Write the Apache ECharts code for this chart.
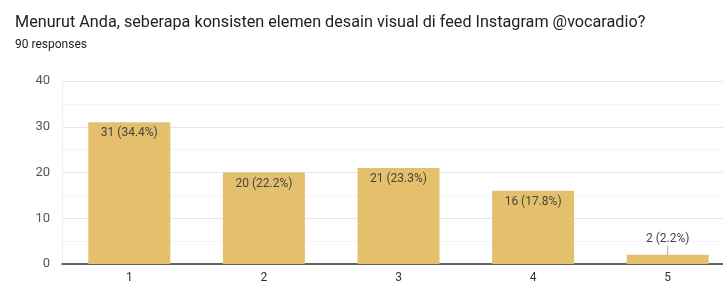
<!DOCTYPE html>
<html>
<head>
<meta charset="utf-8">
<script src="https://cdn.jsdelivr.net/npm/echarts@6/dist/echarts.min.js"></script>
<style>
    html, body { margin: 0; padding: 0; background: #fff; overflow: hidden; }
    #chart { width: 735px; height: 284px; }
</style>
</head>
<body>
<div id="chart"></div>
<script>
var categories = ['1', '2', '3', '4', '5'];
var counts = [31, 20, 21, 16, 2];
var percents = ['34.4%', '22.2%', '23.3%', '17.8%', '2.2%'];
var yTicks = [0, 10, 20, 30, 40];

// small bars get the label above with a short leader line
var barData = counts.map(function (v, i) {
    var item = { value: v };
    if (v < 5) {
        item.label = {
            position: 'top',
            distance: 0,
            formatter: '{t|' + v + ' (' + percents[i] + ')}\n{l|}',
            rich: {
                t: { fontSize: 12, color: '#444', lineHeight: 14, fontFamily: 'Roboto' },
                l: { width: 1, height: 9, backgroundColor: '#aaa', align: 'center' }
            }
        };
    }
    return item;
});

var option = {
    animation: false,
    title: {
        text: 'Menurut Anda, seberapa konsisten elemen desain visual di feed Instagram @vocaradio?',
        subtext: '90 responses',
        left: 10,
        top: 10,
        itemGap: 8,
        textStyle: { fontFamily: 'Roboto', fontSize: 16.2, fontWeight: 'normal', color: '#202124' },
        subtextStyle: { fontFamily: 'Roboto', fontSize: 12, color: '#202124' }
    },
    grid: { left: 62, right: 0, top: 81, bottom: 20 },
    xAxis: {
        type: 'category',
        data: categories,
        axisLine: { lineStyle: { color: '#333', width: 1.5 } },
        axisTick: { show: false },
        axisLabel: { color: '#333', fontSize: 12, fontFamily: 'Roboto', margin: 8 }
    },
    yAxis: {
        type: 'value',
        min: yTicks[0],
        max: yTicks[yTicks.length - 1],
        interval: 10,
        axisLine: { show: true, lineStyle: { color: '#eee' } },
        axisTick: { show: false },
        axisLabel: { color: '#555', fontSize: 13, fontFamily: 'Roboto', margin: 12 },
        splitLine: { lineStyle: { color: '#e6e6e6' } },
        minorTick: { show: false, splitNumber: 2 },
        minorSplitLine: { show: true, lineStyle: { color: '#f4f4f4' } }
    },
    series: [
        {
            type: 'bar',
            data: barData,
            barWidth: 82,
            itemStyle: { color: '#e5c06c' },
            label: {
                show: true,
                position: 'insideTop',
                distance: 5,
                color: '#444',
                fontSize: 12,
                fontFamily: 'Roboto',
                formatter: function (p) {
                    return p.value + ' (' + percents[p.dataIndex] + ')';
                }
            }
        }
    ]
};

var chart = echarts.init(document.getElementById('chart'));
chart.setOption(option);
</script>
</body>
</html>
